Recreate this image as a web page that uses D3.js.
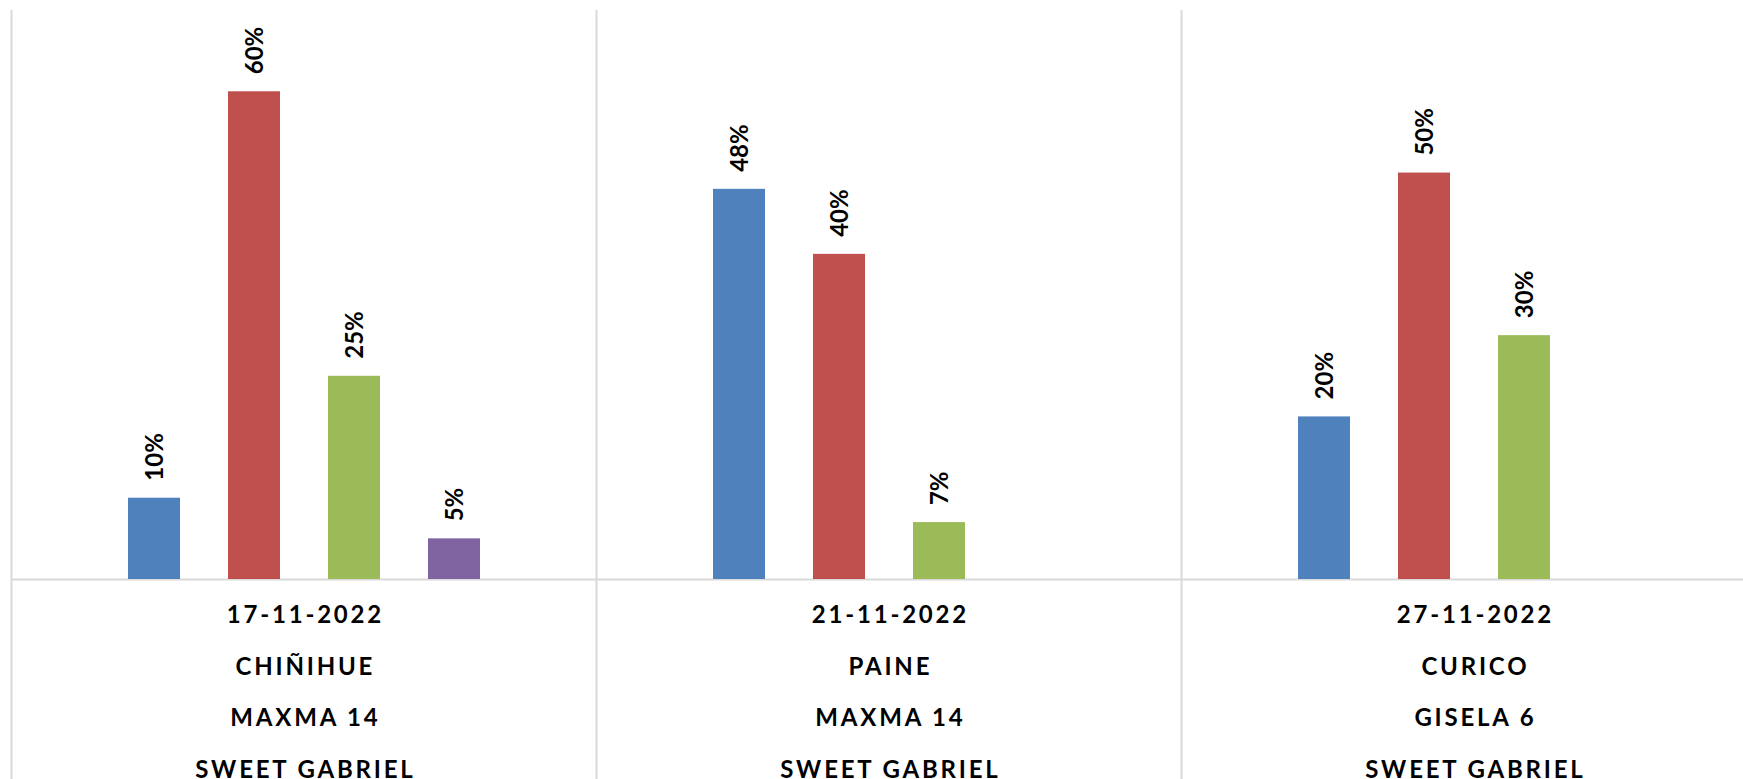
<!DOCTYPE html>
<html>
<head>
<meta charset="utf-8">
<script src="https://cdn.jsdelivr.net/npm/d3@7"></script>
<style>
  body { margin: 0; background: #fff; }
  text { font-family: Lato, "Open Sans", sans-serif; font-weight: bold; fill: #000; }
</style>
</head>
<body>
<div id="chart"></div>
<script>
// category label rows (multi-level axis)
var dates = ["17-11-2022", "21-11-2022", "27-11-2022"];
var places = ["CHIÑIHUE", "PAINE", "CURICO"];
var rootstocks = ["MAXMA 14", "MAXMA 14", "GISELA 6"];
var varieties = ["SWEET GABRIEL", "SWEET GABRIEL", "SWEET GABRIEL"];

// series (one value per category, null = no bar)
var seriesNames = ["s1", "s2", "s3", "s4"];
var seriesColors = ["#4F81BD", "#C0504D", "#9BBB59", "#8064A2"];
var s1 = [0.10, 0.48, 0.20];
var s2 = [0.60, 0.40, 0.50];
var s3 = [0.25, 0.07, 0.30];
var s4 = [0.05, null, null];
var seriesValues = [s1, s2, s3, s4];

var width = 1743, height = 779;
var plotLeft = 11.5, bandW = 585, plotTop = 10, base = 579;

var svg = d3.select("#chart").append("svg")
	.attr("width", width)
	.attr("height", height);

var x0 = d3.scaleBand()
	.domain(dates)
	.range([plotLeft, plotLeft + bandW * dates.length]);

var x1 = d3.scaleBand()
	.domain(seriesNames)
	.range([x0.bandwidth() / 2 - 200, x0.bandwidth() / 2 + 200])
	.paddingInner(0.48)
	.paddingOuter(0.24);

var y = d3.scaleLinear()
	.domain([0, 0.7])
	.range([base, plotTop]);

var color = d3.scaleOrdinal().domain(seriesNames).range(seriesColors);
var pct = d3.format(".0%");

// vertical separators between categories
var seps = dates.map(function (d) { return x0(d); });
seps.push(x0.range()[1]);
svg.selectAll("line.sep")
	.data(seps)
	.enter()
	.append("line")
	.attr("class", "sep")
	.attr("x1", function (d) { return d; })
	.attr("x2", function (d) { return d; })
	.attr("y1", plotTop)
	.attr("y2", height)
	.style("stroke", "#d9d9d9")
	.style("stroke-width", 2);

// baseline axis
var xAxis = svg.append("g")
	.attr("transform", "translate(0," + base + ")")
	.call(d3.axisBottom(x0).tickSize(0).tickSizeOuter(0).tickFormat(""));
xAxis.select(".domain").style("stroke", "#d9d9d9").style("stroke-width", 2);

// flatten data
var bars = [];
dates.forEach(function (d, i) {
	seriesNames.forEach(function (s, j) {
		var v = seriesValues[j][i];
		if (v != null) bars.push({ cat: d, series: s, value: v });
	});
});

var groups = svg.selectAll("g.cat")
	.data(dates)
	.enter()
	.append("g")
	.attr("class", "cat")
	.attr("transform", function (d) { return "translate(" + x0(d) + ",0)"; });

groups.selectAll("rect")
	.data(function (d) { return bars.filter(function (b) { return b.cat == d; }); })
	.enter()
	.append("rect")
	.attr("x", function (d) { return x1(d.series); })
	.attr("y", function (d) { return y(d.value); })
	.attr("width", x1.bandwidth())
	.attr("height", function (d) { return base - y(d.value); })
	.style("fill", function (d) { return color(d.series); });

// rotated value labels
groups.selectAll("text.val")
	.data(function (d) { return bars.filter(function (b) { return b.cat == d; }); })
	.enter()
	.append("text")
	.attr("class", "val")
	.attr("transform", function (d) {
		return "translate(" + (x1(d.series) + x1.bandwidth() / 2) + "," + (y(d.value) - 17) + ") rotate(-90)";
	})
	.attr("dy", "0.36em")
	.style("font-size", "24px")
	.text(function (d) { return pct(d.value); });

// multi-level category labels
var rows = [dates, places, rootstocks, varieties];
var spacing = 2.8;
rows.forEach(function (row, r) {
	svg.selectAll("text.row" + r)
		.data(row)
		.enter()
		.append("text")
		.attr("class", "row" + r)
		.attr("x", function (d, i) { return x0(dates[i]) + x0.bandwidth() / 2 + spacing / 2; })
		.attr("y", 623 + r * 51.7)
		.attr("text-anchor", "middle")
		.style("font-size", "24px")
		.style("letter-spacing", spacing + "px")
		.text(function (d) { return d; });
});
</script>
</body>
</html>
